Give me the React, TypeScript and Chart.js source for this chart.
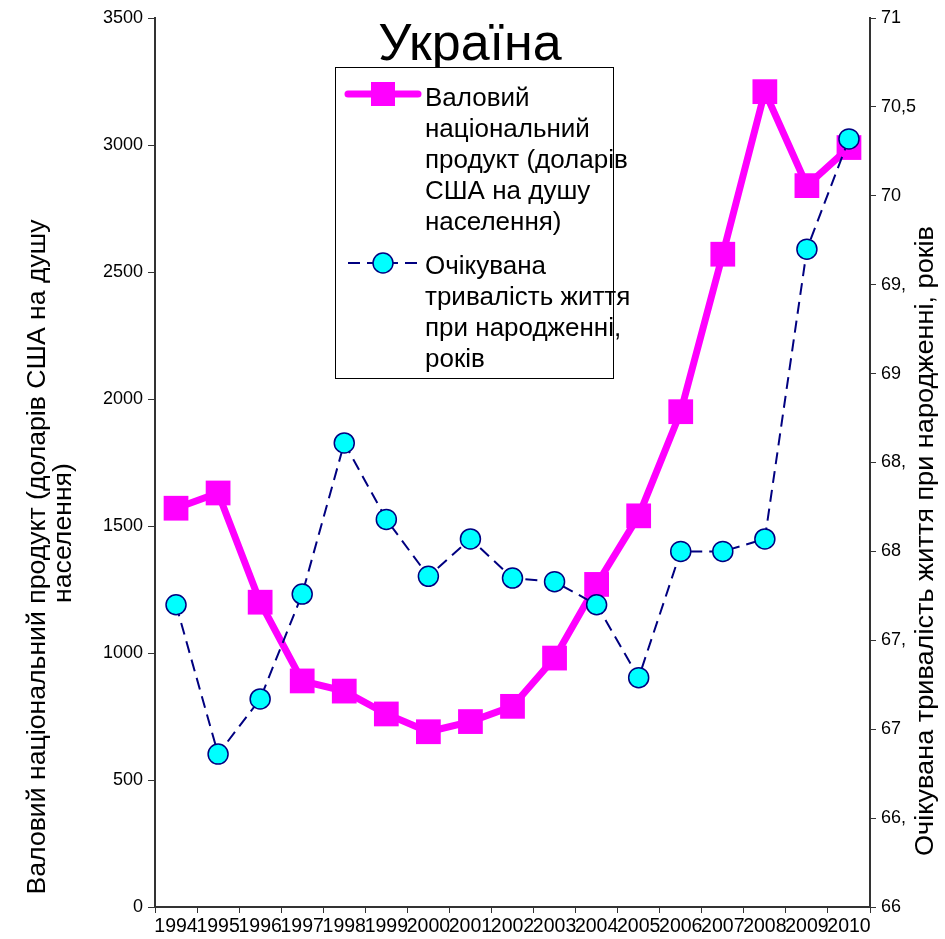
import React, { useEffect, useRef } from 'react';
import Chart from 'chart.js/auto';

const years = ['1994', '1995', '1996', '1997', '1998', '1999', '2000', '2001', '2002', '2003', '2004', '2005', '2006', '2007', '2008', '2009', '2010'];
const gdp = [1570, 1630, 1200, 890, 850, 760, 690, 730, 790, 980, 1270, 1540, 1950, 2570, 3210, 2840, 2990];
const life = [67.7, 66.86, 67.17, 67.76, 68.61, 68.18, 67.86, 68.07, 67.85, 67.83, 67.7, 67.29, 68.0, 68.0, 68.07, 69.7, 70.32];
const leftTickLabels = ['0', '500', '1000', '1500', '2000', '2500', '3000', '3500'];
const rightTickLabels = ['66', '66,5', '67', '67,5', '68', '68,5', '69', '69,5', '70', '70,5', '71'];
const chartTitle = 'Україна';
const gdpLegend = ['Валовий', 'національний', 'продукт (доларів', 'США на душу', 'населення)'];
const lifeLegend = ['Очікувана', 'тривалість життя', 'при народженні,', 'років'];
const leftTitle = ['Валовий національний продукт (доларів США на душу', 'населення)'];
const rightTitle = 'Очікувана тривалість життя при народженні, років';

const FONT = 'Arial, "Liberation Sans", sans-serif';

const overlay = {
  id: 'overlay',
  afterDraw(chart: any) {
    const ctx = chart.ctx as CanvasRenderingContext2D;
    ctx.save();
    ctx.fillStyle = '#000';
    // title
    ctx.font = `52px ${FONT}`;
    ctx.textAlign = 'center';
    ctx.textBaseline = 'alphabetic';
    ctx.fillText(chartTitle, 470, 60);

    // legend box
    const bx = 335, by = 67, bw = 278, bh = 311;
    ctx.fillStyle = '#fff';
    ctx.fillRect(bx, by, bw, bh);
    ctx.strokeStyle = '#000';
    ctx.lineWidth = 1;
    ctx.strokeRect(bx + 0.5, by + 0.5, bw, bh);

    const ds0 = chart.data.datasets[0];
    const ds1 = chart.data.datasets[1];
    // item 1 sample
    ctx.strokeStyle = ds0.borderColor;
    ctx.lineWidth = 7;
    ctx.lineCap = 'round';
    ctx.beginPath();
    ctx.moveTo(348, 94);
    ctx.lineTo(418, 94);
    ctx.stroke();
    ctx.fillStyle = ds0.backgroundColor;
    ctx.fillRect(383 - 12, 94 - 12, 24, 24);
    // item 2 sample
    ctx.lineCap = 'butt';
    ctx.strokeStyle = ds1.borderColor;
    ctx.lineWidth = 2;
    ctx.setLineDash([12, 7]);
    ctx.beginPath();
    ctx.moveTo(348, 263);
    ctx.lineTo(418, 263);
    ctx.stroke();
    ctx.setLineDash([]);
    ctx.beginPath();
    ctx.arc(383, 263, 10, 0, Math.PI * 2);
    ctx.fillStyle = ds1.pointBackgroundColor;
    ctx.fill();
    ctx.lineWidth = 1.5;
    ctx.stroke();

    ctx.fillStyle = '#000';
    ctx.font = `26px ${FONT}`;
    ctx.textAlign = 'left';
    gdpLegend.forEach((t, i) => ctx.fillText(t, 425, 106 + i * 31));
    lifeLegend.forEach((t, i) => ctx.fillText(t, 425, 274 + i * 31));

    // left axis title
    ctx.font = `26px ${FONT}`;
    ctx.textAlign = 'center';
    const w1 = ctx.measureText(leftTitle[0]).width;
    const k = 675 / w1;
    const drawRot = (t: string, x: number, y: number, s: number) => {
      ctx.save();
      ctx.translate(x, y);
      ctx.rotate(-Math.PI / 2);
      ctx.scale(s, 1);
      ctx.fillText(t, 0, 0);
      ctx.restore();
    };
    drawRot(leftTitle[0], 45, 557, k);
    drawRot(leftTitle[1], 71, 533, k);

    // right axis title with white background
    const w2 = ctx.measureText(rightTitle).width;
    const k2 = 630 / w2;
    ctx.fillStyle = '#fff';
    ctx.fillRect(906, 224, 37, 636);
    ctx.fillStyle = '#000';
    drawRot(rightTitle, 933, 541, k2);
    ctx.restore();
  },
};

export default function App() {
  const ref = useRef<HTMLCanvasElement>(null);
  useEffect(() => {
    if (!ref.current) return;
    const chart = new Chart(ref.current, {
      type: 'line',
      data: {
        labels: years,
        datasets: [
          {
            label: gdpLegend.join(' '),
            data: gdp,
            yAxisID: 'y',
            borderColor: '#FF00FF',
            backgroundColor: '#FF00FF',
            borderWidth: 7,
            pointStyle: 'rect',
            pointRadius: 17.5,
            pointBorderWidth: 0,
            pointBackgroundColor: '#FF00FF',
            tension: 0,
            order: 1,
            clip: false as any,
          },
          {
            label: lifeLegend.join(' '),
            data: life,
            yAxisID: 'y1',
            borderColor: '#000080',
            backgroundColor: '#00FFFF',
            borderWidth: 2,
            borderDash: [12, 7],
            pointStyle: 'circle',
            pointRadius: 10,
            pointBackgroundColor: '#00FFFF',
            pointBorderColor: '#000080',
            pointBorderWidth: 1.5,
            tension: 0,
            order: 0,
            clip: false as any,
          },
        ],
      },
      options: {
        responsive: false,
        animation: false,
        layout: { padding: { top: 18, left: 0, right: 0, bottom: 0 } },
        plugins: { legend: { display: false }, title: { display: false }, tooltip: { enabled: false } },
        scales: {
          x: {
            type: 'category',
            offset: true,
            grid: { offset: true, drawOnChartArea: false, drawTicks: true, tickLength: 6, color: '#333' },
            border: { color: '#333', width: 2 },
            ticks: { color: '#000', font: { family: FONT, size: 19.5 }, maxRotation: 0, minRotation: 0, autoSkip: false, padding: 2 },
            afterFit: (s: any) => { s.height = 32; },
          },
          y: {
            position: 'left',
            min: 0,
            max: 3500,
            grid: { drawOnChartArea: false, drawTicks: true, tickLength: 7, color: '#333' },
            border: { color: '#333', width: 2 },
            ticks: {
              stepSize: 500,
              color: '#000',
              font: { family: FONT, size: 18 },
              padding: 5,
              callback: (_v: any, i: number) => leftTickLabels[i],
            },
            afterFit: (s: any) => { s.width = 155; },
          },
          y1: {
            position: 'right',
            min: 66,
            max: 71,
            grid: { drawOnChartArea: false, drawTicks: true, tickLength: 6, color: '#333' },
            border: { color: '#333', width: 2 },
            ticks: {
              stepSize: 0.5,
              color: '#000',
              font: { family: FONT, size: 18 },
              padding: 5,
              callback: (_v: any, i: number) => rightTickLabels[i],
            },
            afterFit: (s: any) => { s.width = 75; },
          },
        },
      },
      plugins: [overlay],
    });
    return () => chart.destroy();
  }, []);
  return (
    <div style={{ position: 'fixed', left: 0, top: 0, width: 945, height: 939, background: '#fff' }}>
      <canvas ref={ref} width={945} height={939} style={{ display: 'block' }} />
    </div>
  );
}
